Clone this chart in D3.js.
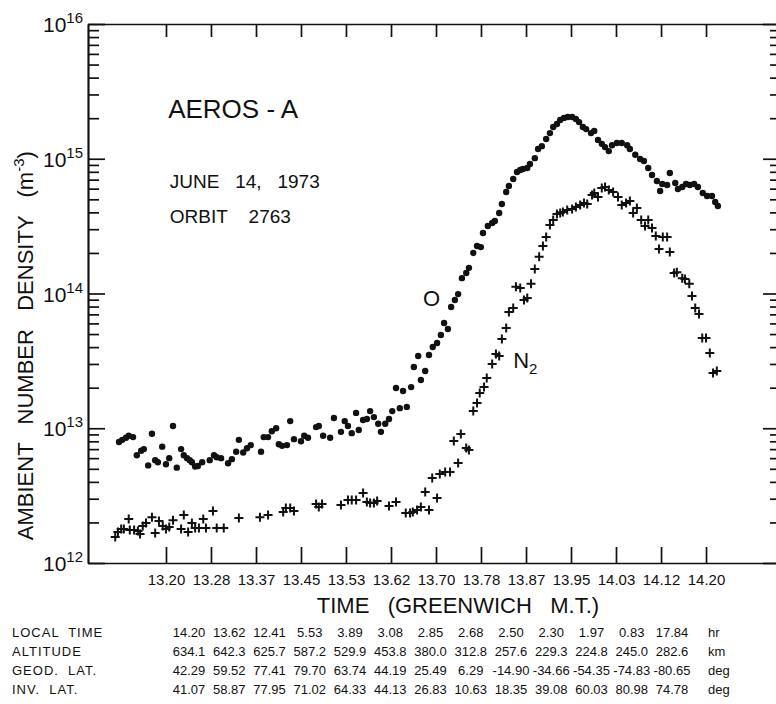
<!DOCTYPE html>
<html lang="en">
<head>
<meta charset="utf-8">
<title>AEROS-A ambient number density</title>
<script src="https://cdn.jsdelivr.net/npm/d3@7"></script>
<style>
  body { margin: 0; background: #fff; }
  text { font-family: "Liberation Sans", Arial, sans-serif; fill: #111; }
  .axis path, .axis line { stroke: #111; stroke-width: 1.7px; fill: none; }
  .axis text { font-size: 15px; font-family: "Liberation Sans", Arial, sans-serif; fill: #111; }
  .pre { white-space: pre; }
</style>
</head>
<body>
<script>
// atomic oxygen, [time (hr GMT), density m^-3]
var oxygen = [
  [13.113,7.9e12],[13.119,8.2e12],[13.126,8.5e12],[13.131,8.8e12],[13.139,8.6e12],[13.146,6.3e12],
  [13.154,6.8e12],[13.159,7.0e12],[13.167,5.3e12],[13.174,9.1e12],[13.180,5.8e12],[13.185,5.6e12],
  [13.193,7.3e12],[13.200,5.4e12],[13.206,6.0e12],[13.213,1.04e13],[13.220,5.1e12],[13.228,7.0e12],
  [13.233,6.3e12],[13.239,6.0e12],[13.244,5.8e12],[13.248,5.6e12],[13.254,5.2e12],[13.259,5.25e12],
  [13.267,5.6e12],[13.281,5.8e12],[13.289,6.3e12],[13.294,6.1e12],[13.302,6.0e12],[13.315,5.5e12],
  [13.322,5.9e12],[13.330,6.7e12],[13.335,8.2e12],[13.343,6.6e12],[13.350,7.1e12],[13.357,7.5e12],
  [13.376,6.7e12],[13.381,8.6e12],[13.389,8.6e12],[13.396,9.5e12],[13.404,1.0e13],[13.409,7.6e12],
  [13.415,7.4e12],[13.424,7.5e12],[13.430,1.13e13],[13.437,8.3e12],[13.450,8.0e12],[13.456,8.8e12],
  [13.463,8.5e12],[13.478,1.02e13],[13.483,1.04e13],[13.491,8.8e12],[13.504,8.5e12],[13.511,1.19e13],
  [13.524,9.4e12],[13.531,1.13e13],[13.537,1.04e13],[13.544,9.2e12],[13.552,1.30e13],[13.557,9.7e12],
  [13.565,1.15e13],[13.572,1.17e13],[13.578,1.34e13],[13.585,1.21e13],[13.593,1.08e13],[13.598,9.4e12],
  [13.606,1.08e13],[13.613,1.17e13],[13.619,1.34e13],[13.626,1.99e13],[13.633,1.41e13],[13.639,1.89e13],
  [13.646,1.44e13],[13.654,2.02e13],[13.659,2.85e13],[13.667,3.44e13],[13.672,2.28e13],[13.680,2.66e13],
  [13.687,3.50e13],[13.694,4.01e13],[13.702,4.29e13],[13.709,4.92e13],[13.715,6.04e13],[13.722,5.45e13],
  [13.728,7.94e13],[13.735,8.95e13],[13.741,9.9e13],[13.748,1.30e14],[13.756,1.42e14],[13.761,1.55e14],
  [13.769,2.0e14],[13.776,2.25e14],[13.783,2.21e14],[13.787,2.81e14],[13.796,3.17e14],[13.804,3.34e14],
  [13.809,3.45e14],[13.817,3.96e14],[13.822,4.61e14],[13.830,5.67e14],[13.835,6.28e14],[13.843,7.08e14],
  [13.850,7.97e14],[13.856,8.25e14],[13.861,8.39e14],[13.869,8.54e14],[13.874,9.14e14],[13.883,1.01e15],
  [13.889,1.18e15],[13.896,1.24e15],[13.904,1.40e15],[13.911,1.55e15],[13.917,1.72e15],[13.924,1.81e15],
  [13.930,1.94e15],[13.937,2.01e15],[13.944,2.04e15],[13.952,2.04e15],[13.959,1.97e15],[13.965,1.87e15],
  [13.972,1.72e15],[13.978,1.66e15],[13.987,1.55e15],[13.993,1.61e15],[14.000,1.38e15],[14.007,1.29e15],
  [14.013,1.22e15],[14.020,1.14e15],[14.026,1.26e15],[14.035,1.31e15],[14.044,1.31e15],[14.054,1.26e15],
  [14.059,1.18e15],[14.069,1.07e15],[14.078,9.96e14],[14.085,9.62e14],[14.093,8.54e14],[14.100,7.58e14],
  [14.109,6.84e14],[14.115,5.76e14],[14.119,6.49e14],[14.128,6.38e14],[14.133,7.84e14],[14.143,6.61e14],
  [14.148,5.96e14],[14.156,6.17e14],[14.163,6.49e14],[14.170,6.38e14],[14.178,6.49e14],[14.185,6.17e14],
  [14.194,5.57e14],[14.202,5.29e14],[14.211,5.29e14],[14.217,4.78e14],[14.222,4.46e14]
];

// molecular nitrogen, [time (hr GMT), density m^-3]
var nitrogen = [
  [13.106,1.56e12],[13.111,1.70e12],[13.117,1.79e12],[13.122,1.79e12],[13.131,2.12e12],[13.133,1.76e12],
  [13.141,1.76e12],[13.148,1.73e12],[13.152,1.64e12],[13.157,1.88e12],[13.163,1.98e12],[13.174,2.19e12],
  [13.180,1.67e12],[13.187,2.05e12],[13.194,1.88e12],[13.200,1.79e12],[13.206,1.85e12],[13.213,2.08e12],
  [13.228,1.79e12],[13.233,2.27e12],[13.241,1.70e12],[13.248,1.98e12],[13.254,1.82e12],[13.261,1.82e12],
  [13.269,2.12e12],[13.274,1.82e12],[13.287,2.43e12],[13.294,1.82e12],[13.307,1.82e12],[13.335,2.16e12],
  [13.374,2.19e12],[13.389,2.27e12],[13.417,2.39e12],[13.422,2.56e12],[13.430,2.56e12],[13.437,2.43e12],
  [13.478,2.74e12],[13.483,2.60e12],[13.489,2.74e12],[13.524,2.69e12],[13.537,2.93e12],[13.544,2.93e12],
  [13.552,2.93e12],[13.565,3.31e12],[13.572,2.84e12],[13.578,2.79e12],[13.585,2.79e12],[13.591,2.88e12],
  [13.613,2.65e12],[13.626,2.84e12],[13.644,2.35e12],[13.652,2.35e12],[13.657,2.39e12],[13.665,2.47e12],
  [13.672,2.60e12],[13.680,3.36e12],[13.687,2.47e12],[13.693,4.27e12],[13.702,3.04e12],[13.707,4.58e12],
  [13.717,4.74e12],[13.726,4.74e12],[13.733,8.04e12],[13.741,5.52e12],[13.746,9.06e12],[13.756,7.13e12],
  [13.761,6.9e12],[13.769,1.34e13],[13.776,1.54e13],[13.781,1.83e13],[13.789,2.02e13],[13.794,2.36e13],
  [13.804,3.0e13],[13.811,3.56e13],[13.817,3.44e13],[13.822,4.59e13],[13.830,5.55e13],[13.835,7.29e13],
  [13.843,7.80e13],[13.848,1.12e14],[13.856,1.10e14],[13.863,8.95e13],[13.869,9.26e13],[13.876,1.18e14],
  [13.883,1.52e14],[13.891,1.87e14],[13.898,2.25e14],[13.904,2.63e14],[13.911,3.22e14],[13.917,3.51e14],
  [13.924,3.89e14],[13.930,3.96e14],[13.935,4.03e14],[13.943,4.17e14],[13.952,4.24e14],[13.959,4.38e14],
  [13.967,4.54e14],[13.974,4.69e14],[13.980,4.61e14],[13.989,5.38e14],[13.993,5.57e14],[14.000,5.20e14],
  [14.007,6.07e14],[14.013,6.17e14],[14.020,5.86e14],[14.028,5.67e14],[14.037,5.20e14],[14.044,4.54e14],
  [14.052,4.69e14],[14.059,4.86e14],[14.065,3.96e14],[14.072,4.31e14],[14.080,3.51e14],[14.087,3.17e14],
  [14.093,3.51e14],[14.100,3.06e14],[14.107,2.67e14],[14.113,2.14e14],[14.120,2.63e14],[14.128,2.63e14],
  [14.133,2.03e14],[14.141,1.42e14],[14.146,1.44e14],[14.156,1.30e14],[14.161,1.28e14],[14.169,1.18e14],
  [14.174,9.58e13],[14.180,7.80e13],[14.187,7.04e13],[14.193,4.67e13],[14.200,4.67e13],[14.207,3.62e13],
  [14.213,2.57e13],[14.220,2.66e13]
];

var tickTimes = [13.2, 13.2833, 13.3667, 13.45, 13.5333, 13.6167, 13.7, 13.7833, 13.8667, 13.95, 14.0333, 14.1167, 14.2];
var tickLabels = ["13.20", "13.28", "13.37", "13.45", "13.53", "13.62", "13.70", "13.78", "13.87", "13.95", "14.03", "14.12", "14.20"];
var decades = [12, 13, 14, 15, 16];

var rowNames = ["LOCAL  TIME", "ALTITUDE", "GEOD.  LAT.", "INV.  LAT."];
var rowUnits = ["hr", "km", "deg", "deg"];
var localTime = ["14.20", "13.62", "12.41", "5.53", "3.89", "3.08", "2.85", "2.68", "2.50", "2.30", "1.97", "0.83", "17.84"];
var altitude = ["634.1", "642.3", "625.7", "587.2", "529.9", "453.8", "380.0", "312.8", "257.6", "229.3", "224.8", "245.0", "282.6"];
var geodLat = ["42.29", "59.52", "77.41", "79.70", "63.74", "44.19", "25.49", "6.29", "-14.90", "-34.66", "-54.35", "-74.83", "-80.65"];
var invLat = ["41.07", "58.87", "77.95", "71.02", "64.33", "44.13", "26.83", "10.63", "18.35", "39.08", "60.03", "80.98", "74.78"];

var width = 776, height = 704;
var plot = { left: 88, right: 778, top: 24, bottom: 563 };

var svg = d3.select("body").append("svg")
  .attr("width", width)
  .attr("height", height);

var x = d3.scaleLinear()
  .domain([13.0556, 14.3333])
  .range([plot.left, plot.right]);

var y = d3.scaleLog()
  .domain([1e12, 1e16])
  .range([plot.bottom, plot.top]);

var majors = decades.map(function(d) { return Math.pow(10, d); });
var minors = [];
decades.slice(0, -1).forEach(function(d) {
  d3.range(2, 10).forEach(function(m) { minors.push(m * Math.pow(10, d)); });
});

// bottom axis with labels, ticks pointing in
svg.append("g")
  .attr("class", "axis")
  .attr("transform", "translate(0," + plot.bottom + ")")
  .call(d3.axisBottom(x)
    .tickValues(tickTimes)
    .tickFormat(function(d, i) { return tickLabels[i]; })
    .tickSizeInner(-16)
    .tickSizeOuter(0)
    .tickPadding(11));

svg.append("g")
  .attr("class", "axis")
  .attr("transform", "translate(0," + plot.top + ")")
  .call(d3.axisTop(x)
    .tickValues(tickTimes)
    .tickFormat("")
    .tickSizeInner(-13)
    .tickSizeOuter(0));

// left and right log axes
svg.append("g")
  .attr("class", "axis")
  .attr("transform", "translate(" + plot.left + ",0)")
  .call(d3.axisLeft(y).tickValues(majors).tickFormat("").tickSizeInner(-17).tickSizeOuter(0));

svg.append("g")
  .attr("class", "axis")
  .attr("transform", "translate(" + plot.left + ",0)")
  .call(d3.axisLeft(y).tickValues(minors).tickFormat("").tickSizeInner(-11).tickSizeOuter(0));

svg.append("g")
  .attr("class", "axis")
  .attr("transform", "translate(" + plot.right + ",0)")
  .call(d3.axisRight(y).tickValues(majors).tickFormat("").tickSizeInner(-15).tickSizeOuter(0));

svg.append("g")
  .attr("class", "axis")
  .attr("transform", "translate(" + plot.right + ",0)")
  .call(d3.axisRight(y).tickValues(minors).tickFormat("").tickSizeInner(-8).tickSizeOuter(0));

// y tick labels 10^n
var yLab = svg.append("g").selectAll("text")
  .data(decades)
  .enter().append("text")
  .attr("x", 43)
  .attr("y", function(d) { return y(Math.pow(10, d)) + 8; })
  .style("font-size", "21px");
yLab.append("tspan").text("10");
yLab.append("tspan")
  .attr("dy", -9)
  .style("font-size", "15px")
  .text(function(d) { return d; });

// axis titles
svg.append("text")
  .attr("class", "pre")
  .attr("x", x(13.7407))
  .attr("y", 613)
  .attr("text-anchor", "middle")
  .style("font-size", "22px")
  .text("TIME   (GREENWICH   M.T.)");

var yTitle = svg.append("text")
  .attr("class", "pre")
  .attr("transform", "translate(33," + y(4.1e13) + ") rotate(-90)")
  .attr("text-anchor", "middle")
  .style("font-size", "22px");
yTitle.append("tspan").text("AMBIENT   NUMBER   DENSITY   (m");
yTitle.append("tspan").attr("dy", -9).style("font-size", "15px").text("-3");
yTitle.append("tspan").attr("dy", 9).text(")");

// annotations placed in data space
svg.append("text").attr("class", "pre")
  .attr("x", x(13.204)).attr("y", y(2.0e15))
  .style("font-size", "26px").text("AEROS - A");
svg.append("text").attr("class", "pre")
  .attr("x", x(13.207)).attr("y", y(6.07e14))
  .style("font-size", "19px").text("JUNE   14,   1973");
svg.append("text").attr("class", "pre")
  .attr("x", x(13.207)).attr("y", y(3.33e14))
  .style("font-size", "19px").text("ORBIT    2763");
svg.append("text")
  .attr("x", x(13.676)).attr("y", y(8.07e13))
  .style("font-size", "22px").text("O");
var n2 = svg.append("text")
  .attr("x", x(13.843)).attr("y", y(2.8e13))
  .style("font-size", "22px");
n2.append("tspan").text("N");
n2.append("tspan").attr("dy", 6).style("font-size", "15px").text("2");

// data
svg.append("g").selectAll("circle")
  .data(oxygen)
  .enter().append("circle")
  .attr("cx", function(d) { return x(d[0]); })
  .attr("cy", function(d) { return y(d[1]); })
  .attr("r", 3.2)
  .attr("fill", "#111");

svg.append("g").selectAll("path")
  .data(nitrogen)
  .enter().append("path")
  .attr("d", function(d) {
    var cx = x(d[0]), cy = y(d[1]);
    return "M" + (cx - 4.5) + "," + cy + "H" + (cx + 4.5) + "M" + cx + "," + (cy - 4.5) + "V" + (cy + 4.5);
  })
  .attr("stroke", "#111")
  .attr("stroke-width", 2);

// orbit table under the axis
var rows = [localTime, altitude, geodLat, invLat];
var col = d3.scaleLinear().domain([0, 12]).range([189, 672]);
var rowY = d3.scaleLinear().domain([0, 3]).range([637, 694]);

var table = svg.append("g").style("font-size", "13px");
rows.forEach(function(vals, r) {
  table.append("text")
    .attr("class", "pre")
    .attr("x", 12)
    .attr("y", rowY(r))
    .style("letter-spacing", "1px")
    .text(rowNames[r]);
  table.selectAll(null)
    .data(vals)
    .enter().append("text")
    .attr("x", function(d, i) { return col(i); })
    .attr("y", rowY(r))
    .attr("text-anchor", "middle")
    .text(function(d) { return d; });
  table.append("text")
    .attr("x", 708)
    .attr("y", rowY(r))
    .text(rowUnits[r]);
});
</script>
</body>
</html>
